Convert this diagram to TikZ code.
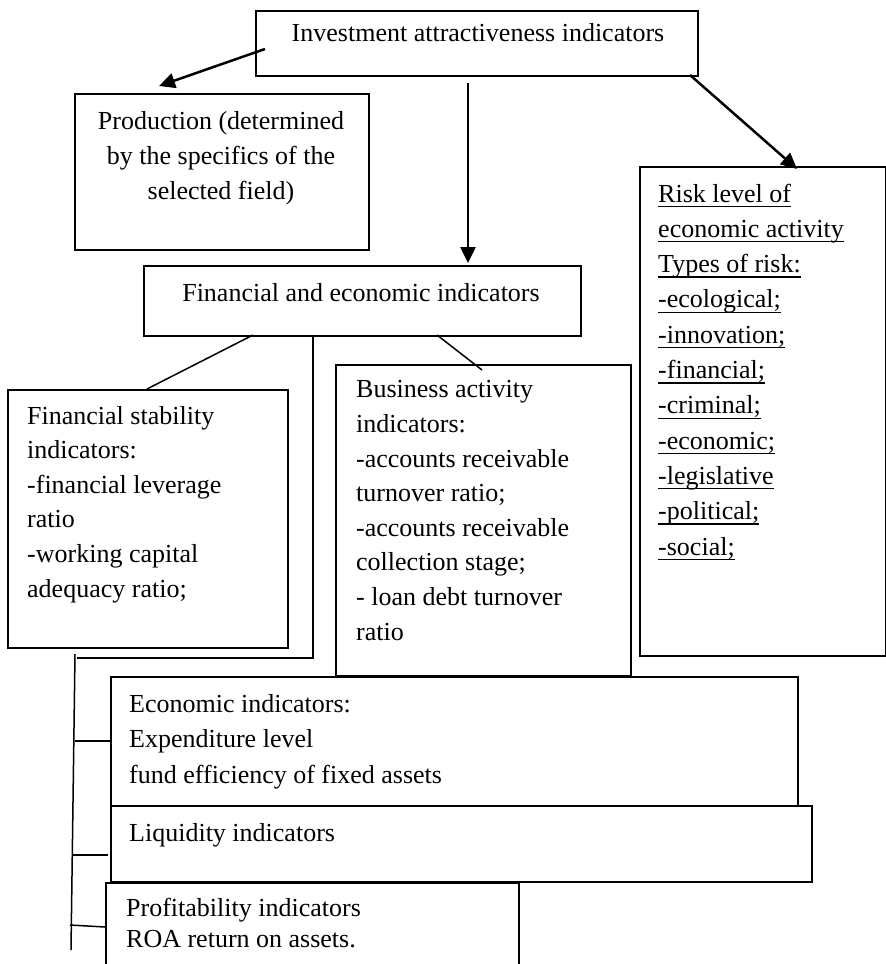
\documentclass[tikz,border=0pt]{standalone}
\usepackage{fontspec}
\setmainfont{Liberation Serif}
\usetikzlibrary{arrows.meta}
\newcommand\myul[1]{\setbox0\hbox{#1}\rlap{\rule[-5pt]{\wd0}{1.3pt}}\box0}
\begin{document}
\begin{tikzpicture}[x=1pt,y=-1pt,
  box/.style={draw, line width=1.5pt, inner sep=0pt, anchor=north west, rectangle},
  txt/.style={inner sep=0pt, anchor=base west, align=left, font=\fontsize{26}{34.6}\selectfont},
  conn/.style={line width=1.5pt},
  arr/.style={line width=2.5pt, -{Triangle[length=16pt,width=15pt]}}]
\useasboundingbox (0,0) rectangle (886,964);
\clip (0,0) rectangle (886,964);
% boxes
\node[box, minimum width=442pt, minimum height=65pt] (top) at (255,10) {};
\node[box, minimum width=294pt, minimum height=156pt] (prod) at (74,93) {};
\node[box, minimum width=437pt, minimum height=70pt] (fe) at (143,265) {};
\node[box, minimum width=280pt, minimum height=258pt] (fs) at (7,389) {};
\node[box, minimum width=295pt, minimum height=311pt] (ba) at (335,364) {};
\node[box, minimum width=246pt, minimum height=489pt] (risk) at (639,166) {};
\node[box, minimum width=687pt, minimum height=129pt] (econ) at (110,676) {};
\node[box, minimum width=701pt, minimum height=76pt] (liq) at (110,805) {};
\node[box, minimum width=413pt, minimum height=100pt] (prof) at (105,882) {};
% texts (base anchor = baseline of the last line)
\node[txt, anchor=base] (ttop) at (478,41) {Investment attractiveness indicators};
\node[txt, anchor=base, align=center, font=\fontsize{26}{35}\selectfont] (tprod) at (221,199) {Production (determined\\by the specifics of the\\selected field)};
\node[txt, anchor=base] (tfe) at (361,301) {Financial and economic indicators};
\node[txt] (tfs) at (27,597) {Financial stability\\indicators:\\-financial leverage\\ratio\\-working capital\\adequacy ratio;};
\node[txt] (tba) at (356,640) {Business activity\\indicators:\\-accounts receivable\\turnover ratio;\\-accounts receivable\\collection stage;\\- loan debt turnover\\ratio};
\node[txt, font=\fontsize{26}{35.3}\selectfont] (trisk) at (658,555) {\myul{Risk level of}\\\myul{economic activity}\\\myul{Types of risk:}\\\myul{-ecological;}\\\myul{-innovation;}\\\myul{-financial;}\\\myul{-criminal;}\\\myul{-economic;}\\\myul{-legislative}\\\myul{-political;}\\\myul{-social;}};
\node[txt, font=\fontsize{26}{35.5}\selectfont] (tecon) at (129,783) {Economic indicators:\\Expenditure level\\fund efficiency of fixed assets};
\node[txt] (tliq) at (129,841) {Liquidity indicators};
\node[txt, font=\fontsize{26}{31}\selectfont] (tprof) at (126,947) {Profitability indicators\\ROA return on assets.};
% arrow coordinates
\coordinate (a1s) at (265,49);
\coordinate (a1e) at (159,86);
\coordinate (a2s) at (468,83);
\coordinate (a2e) at (468,263);
\coordinate (a3s) at (690,75);
\coordinate (a3e) at (797,169);
\draw[arr] (a1s) -- (a1e);
\draw[arr] (a2s) -- (a2e);
\draw[arr] (a3s) -- (a3e);
% connectors
\coordinate (fe1) at (253,335);
\coordinate (fs1) at (147,389);
\coordinate (fe2) at (313,335);
\coordinate (c2) at (313,658);
\coordinate (c3) at (77,658);
\coordinate (fe3) at (437,335);
\coordinate (ba1) at (482,370);
\coordinate (v1) at (75,654);
\coordinate (v2) at (71,950);
\coordinate (k1) at (75,741);
\coordinate (k2) at (73,855);
\coordinate (k3) at (70,925);
\draw[conn] (fe1) -- (fs1);
\draw[conn] (fe2) -- (c2) -- (c3);
\draw[conn] (fe3) -- (ba1);
\draw[conn] (v1) -- (v2);
\draw[conn] (k1) -- (econ.west |- k1);
\draw[conn] (k2) -- ([xshift=-2pt]liq.west |- k2);
\draw[conn] (k3) -- ([yshift=-2pt]prof.west |- k3);
\end{tikzpicture}
\end{document}
